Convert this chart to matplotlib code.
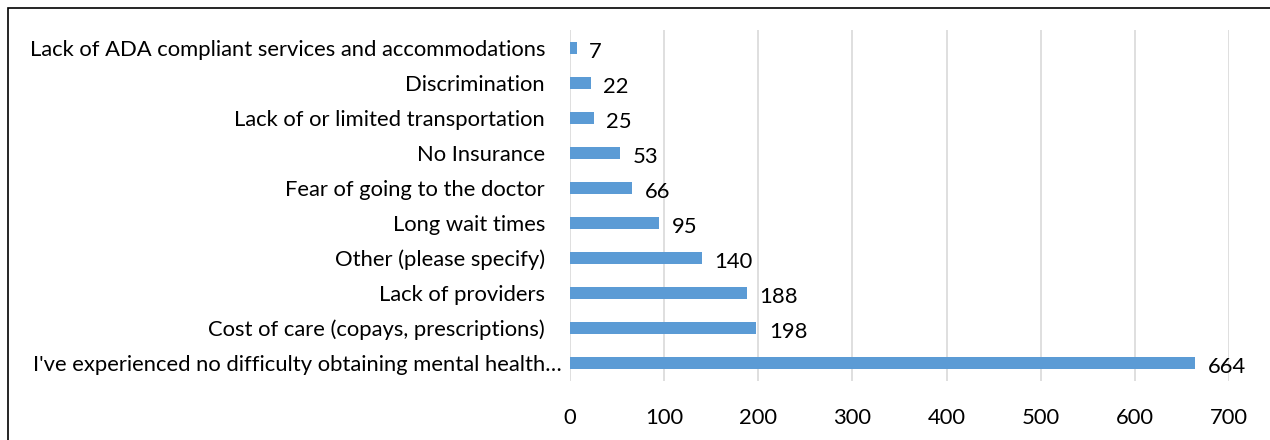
import matplotlib
matplotlib.use("Agg")
import matplotlib.pyplot as plt
import matplotlib.transforms as mtransforms
from matplotlib.patches import Rectangle

categories = [
    "I've experienced no difficulty obtaining mental health\u2026",
    "Cost of care (copays, prescriptions)",
    "Lack of providers",
    "Other (please specify)",
    "Long wait times",
    "Fear of going to the doctor",
    "No Insurance",
    "Lack of or limited transportation",
    "Discrimination",
    "Lack of ADA compliant services and accommodations",
]
values = [664, 198, 188, 140, 95, 66, 53, 25, 22, 7]
xticks = [0, 100, 200, 300, 400, 500, 600, 700]

plt.rcParams['font.family'] = ['Lato', 'DejaVu Sans']
FS = 15.8

fig = plt.figure(figsize=(12.7, 4.4), dpi=100)
ax = fig.add_axes([570/1270, 1-380.5/440, (1229-570)/1270, (380.5-30.5)/440])

ypos = list(range(len(categories)))
ax.barh(ypos, values, height=0.34, color="#5b9bd5", zorder=3)
ax.set_xlim(0, 700)
ax.set_ylim(-0.5, len(categories)-0.5)
ax.set_yticks(ypos)
ax.set_yticklabels(categories, fontsize=FS, color="#000000")
ax.set_xticks(xticks)
ax.set_xticklabels([str(t) for t in xticks], fontsize=FS)
ax.tick_params(axis='both', length=0)
ax.tick_params(axis='y', pad=18)
ax.tick_params(axis='x', pad=20)
ax.xaxis.grid(True, color="#d9d9d9", linewidth=1.2, zorder=0)
for s in ax.spines.values():
    s.set_visible(False)

# the truncated first label sits a bit further right, as in the original
lbl = ax.get_yticklabels()[0]
lbl.set_transform(lbl.get_transform() + mtransforms.ScaledTranslation(17/100, 0, fig.dpi_scale_trans))

for y, v in zip(ypos, values):
    ax.annotate(str(v), (v, y), xytext=(9, -3), textcoords='offset points',
                ha='left', va='center', fontsize=FS)

fig.add_artist(Rectangle((8/1270, -0.01), 1.1, 1-8/440+0.01, transform=fig.transFigure,
                         fill=False, edgecolor='black', linewidth=1.2))

fig.savefig("out.png", dpi=100)
